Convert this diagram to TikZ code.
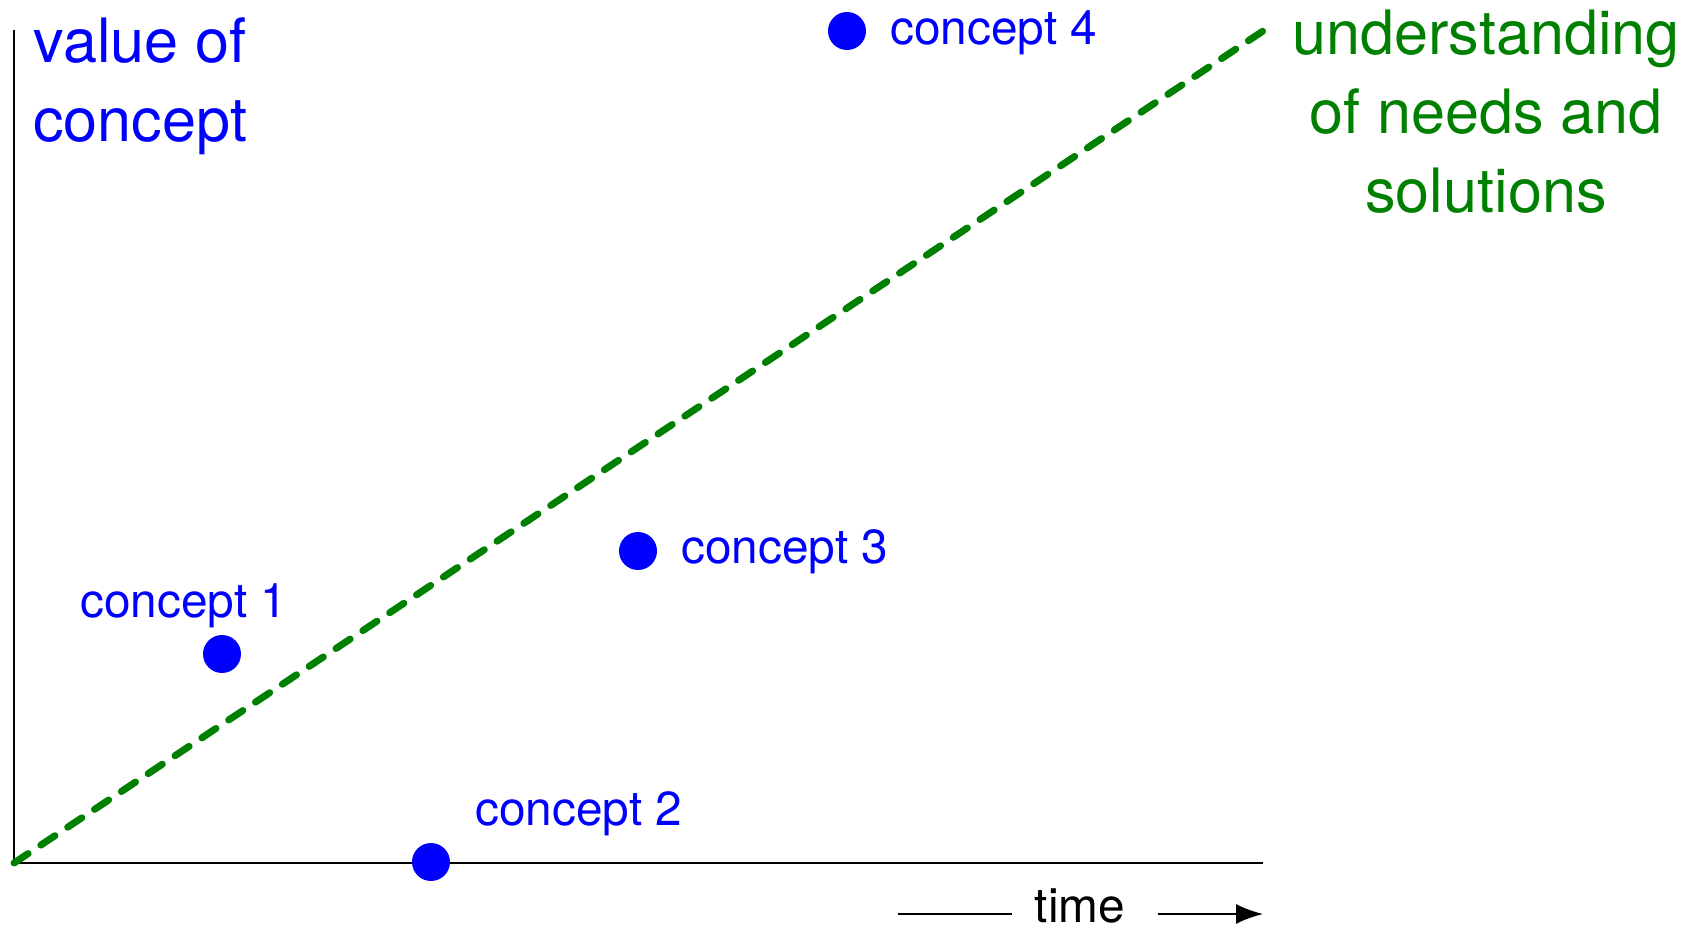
\documentclass[tikz,border=0pt]{standalone}
\usepackage{fontspec}
\setmainfont{TeX Gyre Heros}
\usepackage{xcolor}
\usepackage{tikz}
\usetikzlibrary{
  positioning,
  arrows.meta
}
\definecolor{conceptblue}{RGB}{0,0,255}
\definecolor{needgreen}{RGB}{0,128,0}

\begin{document}
\begin{tikzpicture}[
  x=0.02cm, y=-0.02cm,
  axis/.style={
    draw=black,
    line width=1.1pt
  },
  dot/.style={
    circle,
    fill=conceptblue,
    inner sep=0pt,
    minimum size=0.76cm
  },
  lbl/.style={
    anchor=base west,
    inner sep=0pt,
    text=conceptblue,
    font=\fontsize{27.2}{32}\selectfont
  },
  biglbl/.style={
    inner sep=0pt,
    align=center,
    font=\fontsize{34.8}{45}\selectfont
  },
  trend/.style={
    draw=needgreen,
    line width=0.14cm,
    line cap=round,
    dash pattern=on 0.34cm off 0.305cm
  },
  arrow/.style={
    -{Latex[length=0.54cm, width=0.4cm]},
    line width=1.1pt
  }
]
\useasboundingbox (0,0) rectangle (1684,932);

% Axes
\coordinate (origin) at (14,863);
\coordinate (ytop) at (14,30);
\coordinate (xend) at (1263,863);
\draw[axis] (ytop) -- (origin) -- (xend);

% Trend of understanding
\coordinate (trendend) at (1263,31);
\draw[trend] (origin) -- (trendend);

% Concepts
\node[dot] (c1) at (222,654) {};
\node[dot] (c2) at (431,862) {};
\node[dot] (c3) at (638,551) {};
\node[dot] (c4) at (847,31) {};
\node[lbl] (c1lbl) at (80,617) {concept 1};
\node[lbl] (c2lbl) at (475,825) {concept 2};
\node[lbl] (c3lbl) at (681,563) {concept 3};
\node[lbl] (c4lbl) at (890,45) {concept 4};

% Axis and trend labels (base = last line)
\node[biglbl, anchor=base west, text=conceptblue] (ylbl) at (33,142) {value of\\concept};
\node[biglbl, anchor=base, text=needgreen] (trendlbl) at (1486,213) {understanding\\of needs and\\solutions};

% Time arrow
\node[lbl, anchor=base, text=black] (timelbl) at (1080,922) {time};
\coordinate (tleft) at (898,914);
\coordinate (tmid) at (1012,914);
\coordinate (tstart) at (1158,914);
\coordinate (tright) at (1263,914);
\draw[line width=1.1pt] (tleft) -- (tmid);
\draw[arrow] (tstart) -- (tright);

\end{tikzpicture}
\end{document}
